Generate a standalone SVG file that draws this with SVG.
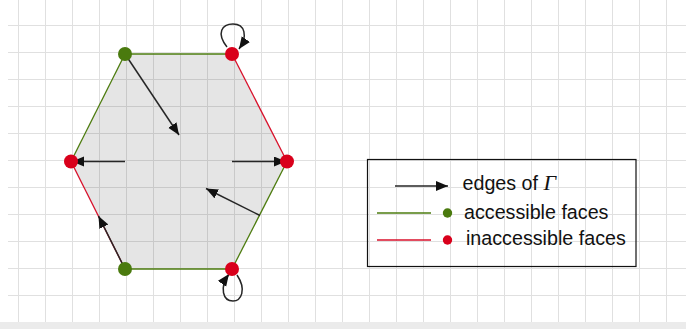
<svg xmlns="http://www.w3.org/2000/svg" width="686" height="329" viewBox="0 0 686 329">
  <style>
    .grid { stroke: #e0e0e0; stroke-width: 1; fill: none; }
    .acc { stroke: #4d7c0f; stroke-width: 1.3; fill: none; }
    .inacc { stroke: #d8112b; stroke-width: 1.3; fill: none; }
    .edge { stroke: #262626; stroke-width: 1.5; fill: none; marker-end: url(#arrow); }
    .dotA { fill: #4a7a0e; }
    .dotI { fill: #d9001b; }
    .lbl { font-family: "Liberation Sans", Arial, sans-serif; font-size: 19.7px; fill: #111; }
    .math { font-family: "Liberation Serif", "Times New Roman", serif; font-style: italic; font-size: 22px; }
  </style>
  <defs>
    <marker id="arrow" markerUnits="userSpaceOnUse" markerWidth="13" markerHeight="11" refX="12" refY="5" orient="auto">
      <path d="M0,0 L12,5 L0,10 z" fill="#111"/>
    </marker>
  </defs>
  <rect width="686" height="329" fill="#ffffff"/>
  <g id="grid">
    <path class="grid" d="M18.5,0V322 M45.5,0V322 M72.5,0V322 M99.5,0V322 M126.5,0V322 M153.5,0V322 M180.5,0V322 M207.5,0V322 M234.5,0V322 M261.5,0V322 M288.5,0V322 M315.5,0V322 M342.5,0V322 M369.5,0V322 M396.5,0V322 M423.5,0V322 M450.5,0V322 M477.5,0V322 M504.5,0V322 M531.5,0V322 M558.5,0V322 M585.5,0V322 M612.5,0V322 M639.5,0V322 M666.5,0V322 M8,25.5H686 M8,52.5H686 M8,79.5H686 M8,106.5H686 M8,133.5H686 M8,160.5H686 M8,187.5H686 M8,214.5H686 M8,241.5H686 M8,268.5H686 M8,295.5H686"/>
    <rect x="0" y="322" width="686" height="7" fill="#ebebeb"/>
  </g>
  <g id="hexagon">
    <polygon points="125,54 232,54 287,161.5 232,269 125,269 71,161.5" fill="#000" fill-opacity="0.1"/>
    <line class="acc" x1="125" y1="54" x2="232" y2="54"/>
    <line class="inacc" x1="232" y1="54" x2="287" y2="161.5"/>
    <line class="acc" x1="287" y1="161.5" x2="232" y2="269"/>
    <line class="acc" x1="232" y1="269" x2="125" y2="269"/>
    <line class="inacc" x1="125" y1="269" x2="71" y2="161.5"/>
    <line class="acc" x1="71" y1="161.5" x2="125" y2="54"/>
  </g>
  <g id="connectors">
    <line class="edge" x1="125" y1="54" x2="179" y2="135"/>
    <line class="edge" x1="125" y1="161.5" x2="72" y2="161.5"/>
    <line class="edge" x1="232" y1="161.5" x2="286" y2="161.5"/>
    <line class="edge" x1="260" y1="215.5" x2="206" y2="188.5"/>
    <line class="edge" x1="125" y1="269" x2="98.5" y2="216"/>
    <path class="edge" d="M227,47 C216,33 222,24 233,24 C245,24 248,36 239,49"/>
    <path class="edge" d="M237,275 C247,290 241,301 233,301 C223,301 219,288 229,274"/>
  </g>
  <g id="nodes">
    <circle id="v1" class="dotA" cx="125" cy="54" r="7"/>
    <circle id="v2" class="dotI" cx="232" cy="54" r="7"/>
    <circle id="v3" class="dotI" cx="287" cy="161.5" r="7"/>
    <circle id="v4" class="dotI" cx="232" cy="269" r="7"/>
    <circle id="v5" class="dotA" cx="125" cy="269" r="7"/>
    <circle id="v6" class="dotI" cx="71" cy="161.5" r="7"/>
  </g>
  <g id="legend">
    <rect x="367.5" y="159.5" width="268.5" height="107" fill="none" stroke="#111" stroke-width="1.2"/>
    <line class="edge" x1="395" y1="186" x2="448" y2="186"/>
    <text class="lbl" x="462.5" y="190">edges of <tspan class="math">Γ</tspan></text>
    <line class="acc" x1="377" y1="213" x2="431" y2="213"/>
    <circle class="dotA" cx="447.5" cy="213" r="4.7"/>
    <text class="lbl" x="464" y="218.5">accessible faces</text>
    <line class="inacc" x1="377" y1="240" x2="431" y2="240"/>
    <circle class="dotI" cx="447.5" cy="240" r="4.7"/>
    <text class="lbl" x="466" y="244.5">inaccessible faces</text>
  </g>
</svg>
